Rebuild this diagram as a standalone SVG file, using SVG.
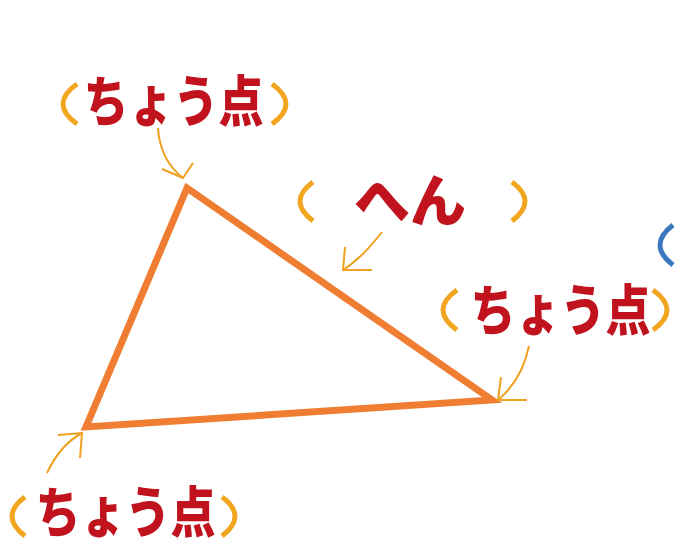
<svg xmlns="http://www.w3.org/2000/svg" width="677" height="551" viewBox="0 0 677 551">
<style>
.tri{fill:none;stroke:#F07E32;stroke-width:7;stroke-linejoin:miter}
.par{fill:none;stroke:#F2A51F;stroke-width:5}
.blue{fill:none;stroke:#3B78C0;stroke-width:5}
.arr{fill:none;stroke:#F0A020;stroke-width:2}
.lbl{font-family:"Noto Sans CJK JP","Noto Sans",sans-serif;font-weight:900;fill:#C1131D;text-anchor:middle;dominant-baseline:central}
</style>
<rect width="677" height="551" fill="#ffffff"/>
<g id="triangle">
<polygon class="tri" points="187,188 86,427 492,400"/>
</g>
<g id="connectors">
<path class="arr" d="M158,128 Q160,160 183,178"/>
<path class="arr" d="M162,169 L183,178 L193,163"/>
<path class="arr" d="M382,232 Q362,258 343,270"/>
<path class="arr" d="M345,247 L343,270 L372,270"/>
<path class="arr" d="M529,346 Q522,380 498,400"/>
<path class="arr" d="M501,377 L498,400 L527,400"/>
<path class="arr" d="M47,473 Q60,445 82,433"/>
<path class="arr" d="M58,435 L82,433 L80,458"/>
</g>
<g id="label-top">
<path class="par" d="M77,84 Q49,104 77,124"/>
<path class="par" d="M272,84 Q300,104 272,124"/>
<text class="lbl" font-size="45" transform="translate(173.5,97) scale(1,1.22)">ちょう点</text>
</g>
<g id="label-hen">
<path class="par" d="M313,182 Q287,201 313,221"/>
<path class="par" d="M512,182 Q538,201 512,221"/>
<text class="lbl" font-size="56" transform="translate(410,196)">へん</text>
</g>
<g id="label-right">
<path class="par" d="M457,290 Q429,310 457,330"/>
<path class="par" d="M653,290 Q681,310 653,330"/>
<text class="lbl" font-size="45" transform="translate(560.5,306) scale(1,1.22)">ちょう点</text>
</g>
<g id="label-bottom">
<path class="par" d="M25,497 Q-1,516 25,536"/>
<path class="par" d="M222,497 Q248,516 222,536"/>
<text class="lbl" font-size="45" transform="translate(125.5,508) scale(1,1.22)">ちょう点</text>
</g>
<g id="blue-paren">
<path class="blue" d="M673,225 Q647,245 673,265"/>
</g>
</svg>
